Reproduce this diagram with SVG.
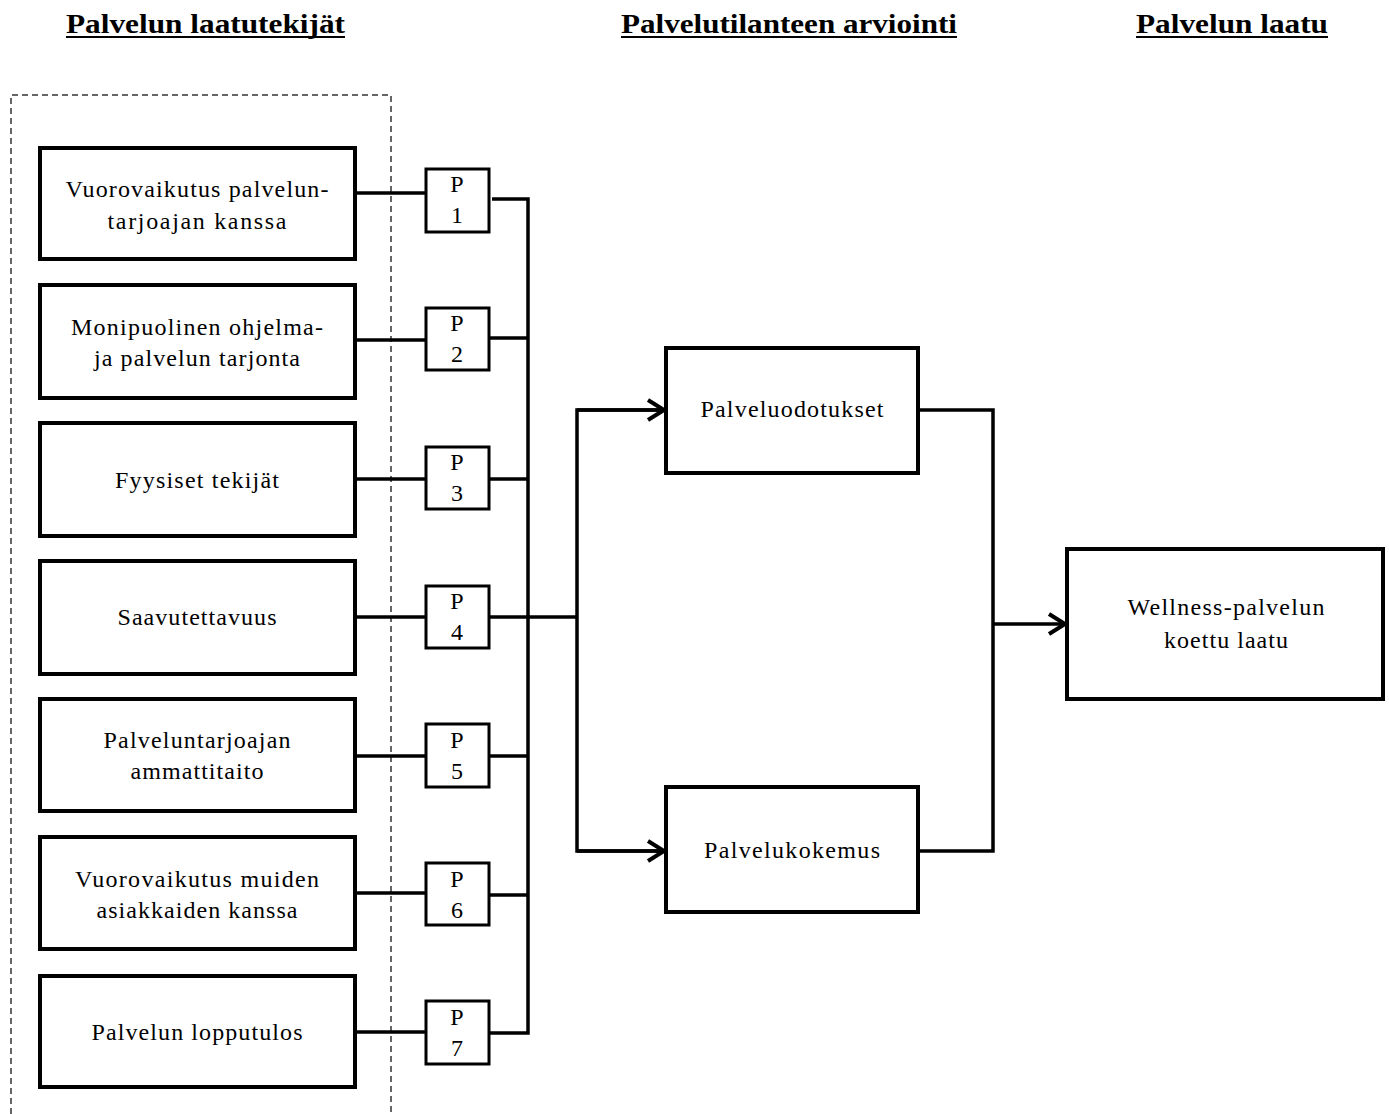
<svg xmlns="http://www.w3.org/2000/svg" width="1389" height="1114" viewBox="0 0 1389 1114">
<style>
.box{fill:#fff;stroke:#000;stroke-width:4}
.pbox{fill:#fff;stroke:#000;stroke-width:3}
.t{font-family:"Liberation Serif","Times New Roman",serif;font-size:24px;fill:#000;text-anchor:middle}
.p{font-family:"Liberation Serif","Times New Roman",serif;font-size:24px;fill:#000;text-anchor:middle}
.h{font-family:"Liberation Serif","Times New Roman",serif;font-size:27px;font-weight:bold;fill:#000}
.c{fill:none;stroke:#000;stroke-width:3.5}
.ul{stroke:#000;stroke-width:2}
</style>
<defs>
<marker id="ar" markerUnits="userSpaceOnUse" markerWidth="24" markerHeight="26" refX="18" refY="12" orient="auto">
<path d="M2,2 L18,12 L2,22" fill="none" stroke="#000" stroke-width="4"/>
</marker>
</defs>
<rect width="1389" height="1114" fill="#fff"/>
<g id="titles">
<text class="h" x="66" y="33" textLength="279" lengthAdjust="spacingAndGlyphs">Palvelun laatutekijät</text>
<line class="ul" x1="66" y1="37" x2="345" y2="37"/>
<text class="h" x="621" y="33" textLength="336" lengthAdjust="spacingAndGlyphs">Palvelutilanteen arviointi</text>
<line class="ul" x1="621" y1="37" x2="957" y2="37"/>
<text class="h" x="1136" y="33" textLength="192" lengthAdjust="spacingAndGlyphs">Palvelun laatu</text>
<line class="ul" x1="1136" y1="37" x2="1328" y2="37"/>
</g>
<g id="group-frame">
<path d="M11,1114 L11,95 L391,95 L391,1114" fill="none" stroke="#333" stroke-width="1.5" stroke-dasharray="6,4"/>
</g>
<g id="connectors">
<line class="c" x1="355" y1="193" x2="426" y2="193"/>
<line class="c" x1="355" y1="340" x2="426" y2="340"/>
<line class="c" x1="355" y1="479" x2="426" y2="479"/>
<line class="c" x1="355" y1="617" x2="426" y2="617"/>
<line class="c" x1="355" y1="756" x2="426" y2="756"/>
<line class="c" x1="355" y1="893" x2="426" y2="893"/>
<line class="c" x1="355" y1="1032" x2="426" y2="1032"/>
<polyline class="c" points="492,199 528,199 528,1033 489,1033"/>
<line class="c" x1="489" y1="338" x2="528" y2="338"/>
<line class="c" x1="489" y1="479" x2="528" y2="479"/>
<line class="c" x1="489" y1="617" x2="577" y2="617"/>
<line class="c" x1="489" y1="756" x2="528" y2="756"/>
<line class="c" x1="489" y1="895" x2="528" y2="895"/>
<polyline class="c" points="664,410 577,410 577,851 664,851"/>
<line class="c" x1="577" y1="410" x2="664" y2="410" marker-end="url(#ar)"/>
<line class="c" x1="577" y1="851" x2="664" y2="851" marker-end="url(#ar)"/>
<polyline class="c" points="918,410 993,410 993,851 918,851"/>
<line class="c" x1="993" y1="624" x2="1065" y2="624" marker-end="url(#ar)"/>
</g>
<g id="n1"><rect class="box" x="40" y="148" width="315" height="111"/>
<text class="t" x="197" y="197" textLength="263" lengthAdjust="spacing">Vuorovaikutus palvelun-</text>
<text class="t" x="197" y="229" textLength="179" lengthAdjust="spacing">tarjoajan  kanssa</text></g>
<g id="n2"><rect class="box" x="40" y="285" width="315" height="113"/>
<text class="t" x="197" y="335" textLength="252" lengthAdjust="spacing">Monipuolinen ohjelma-</text>
<text class="t" x="197" y="366" textLength="206" lengthAdjust="spacing">ja palvelun tarjonta</text></g>
<g id="n3"><rect class="box" x="40" y="423" width="315" height="113"/>
<text class="t" x="197" y="488" textLength="164" lengthAdjust="spacing">Fyysiset tekijät</text></g>
<g id="n4"><rect class="box" x="40" y="561" width="315" height="113"/>
<text class="t" x="197" y="625" textLength="159" lengthAdjust="spacing">Saavutettavuus</text></g>
<g id="n5"><rect class="box" x="40" y="699" width="315" height="112"/>
<text class="t" x="197" y="748" textLength="187" lengthAdjust="spacing">Palveluntarjoajan</text>
<text class="t" x="197" y="779" textLength="133" lengthAdjust="spacing">ammattitaito</text></g>
<g id="n6"><rect class="box" x="40" y="837" width="315" height="112"/>
<text class="t" x="197" y="887" textLength="244" lengthAdjust="spacing">Vuorovaikutus muiden</text>
<text class="t" x="197" y="918" textLength="201" lengthAdjust="spacing">asiakkaiden kanssa</text></g>
<g id="n7"><rect class="box" x="40" y="976" width="315" height="111"/>
<text class="t" x="197" y="1040" textLength="211" lengthAdjust="spacing">Palvelun lopputulos</text></g>
<g id="p1"><rect class="pbox" x="426" y="169" width="63" height="63"/><text class="p" x="457" y="192">P</text><text class="p" x="457" y="223">1</text></g>
<g id="p2"><rect class="pbox" x="426" y="308" width="63" height="62"/><text class="p" x="457" y="331">P</text><text class="p" x="457" y="362">2</text></g>
<g id="p3"><rect class="pbox" x="426" y="447" width="63" height="62"/><text class="p" x="457" y="470">P</text><text class="p" x="457" y="501">3</text></g>
<g id="p4"><rect class="pbox" x="426" y="586" width="63" height="62"/><text class="p" x="457" y="609">P</text><text class="p" x="457" y="640">4</text></g>
<g id="p5"><rect class="pbox" x="426" y="724" width="63" height="63"/><text class="p" x="457" y="748">P</text><text class="p" x="457" y="779">5</text></g>
<g id="p6"><rect class="pbox" x="426" y="863" width="63" height="62"/><text class="p" x="457" y="887">P</text><text class="p" x="457" y="918">6</text></g>
<g id="p7"><rect class="pbox" x="426" y="1001" width="63" height="63"/><text class="p" x="457" y="1025">P</text><text class="p" x="457" y="1056">7</text></g>
<g id="odotukset"><rect class="box" x="666" y="348" width="252" height="125"/>
<text class="t" x="792" y="417" textLength="183" lengthAdjust="spacing">Palveluodotukset</text></g>
<g id="kokemus"><rect class="box" x="666" y="787" width="252" height="125"/>
<text class="t" x="792" y="858" textLength="176" lengthAdjust="spacing">Palvelukokemus</text></g>
<g id="laatu"><rect class="box" x="1067" y="549" width="316" height="150"/>
<text class="t" x="1226" y="615" textLength="197" lengthAdjust="spacing">Wellness-palvelun</text>
<text class="t" x="1226" y="648" textLength="124" lengthAdjust="spacing">koettu laatu</text></g>
</svg>
